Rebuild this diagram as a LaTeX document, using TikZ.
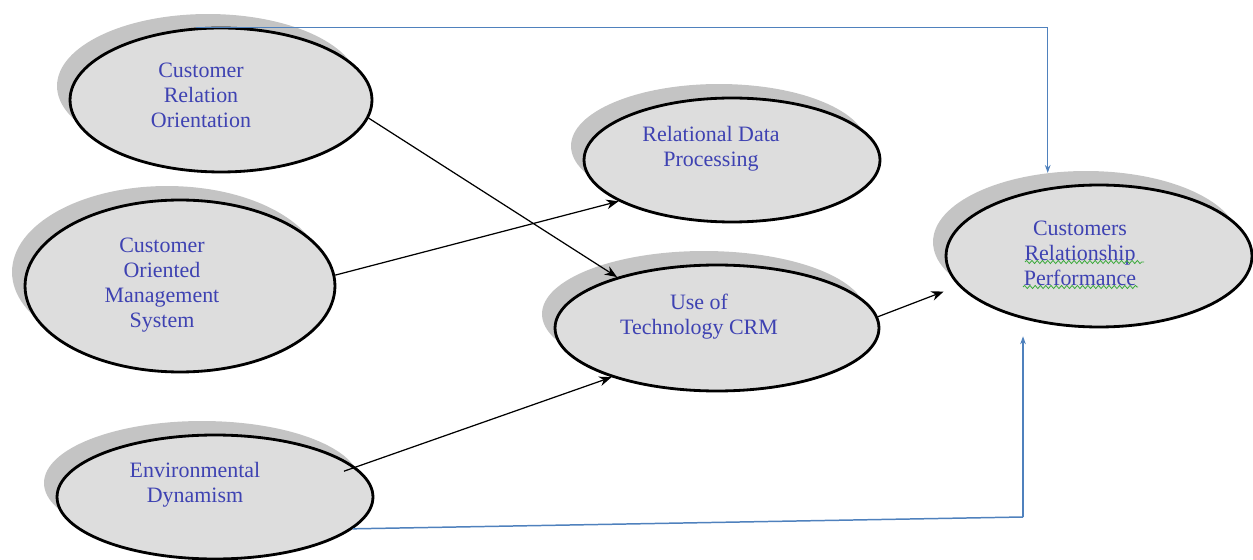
\documentclass[tikz,border=0pt]{standalone}
\usepackage{fontspec}
\setmainfont{Liberation Serif}
\usetikzlibrary{shapes.geometric,arrows.meta,decorations.pathmorphing,calc}
\definecolor{shadowgray}{RGB}{196,196,196}
\definecolor{ellfill}{RGB}{221,221,221}
\definecolor{txtblue}{RGB}{62,66,178}
\definecolor{lineblue}{RGB}{79,129,189}
\definecolor{spellgreen}{RGB}{60,170,60}
\tikzset{
  shd/.style={ellipse, fill=shadowgray, draw=none, inner sep=0pt},
  ell/.style={ellipse, fill=ellfill, draw=black, line width=1.6pt, inner sep=0pt},
  lbl/.style={align=center, text=txtblue, font=\fontsize{12.5}{14.2}\selectfont, inner sep=0pt},
  conn/.style={draw=black, line width=0.7pt, -{Stealth[length=7pt,width=5.5pt]}},
  bconn/.style={draw=lineblue, line width=0.85pt, -{Stealth[length=4.5pt,width=3.2pt]}},
  bline/.style={draw=lineblue, line width=0.85pt},
  squig/.style={draw=spellgreen, line width=0.45pt, decorate, decoration={snake, amplitude=0.9pt, segment length=3pt}},
}
\begin{document}
\begin{tikzpicture}[x=0.02cm,y=-0.02cm]
\useasboundingbox (0,0) rectangle (1253,560);
% shadows
\node[shd, minimum width=6.04cm, minimum height=2.88cm] (croS) at (208,86) {};
\node[shd, minimum width=6.20cm, minimum height=3.44cm] (comsS) at (167,272) {};
\node[shd, minimum width=6.32cm, minimum height=2.48cm] (edS) at (202,483) {};
\node[shd, minimum width=5.92cm, minimum height=2.48cm] (rdpS) at (719,146) {};
\node[shd, minimum width=6.48cm, minimum height=2.52cm] (utcS) at (704,314) {};
\node[shd, minimum width=6.12cm, minimum height=2.84cm] (crpS) at (1086,242) {};
% main ellipses
\node[ell, minimum width=6.04cm, minimum height=2.88cm] (cro) at (221,100) {};
\node[ell, minimum width=6.20cm, minimum height=3.44cm] (coms) at (180,286) {};
\node[ell, minimum width=6.32cm, minimum height=2.48cm] (ed) at (215,497) {};
\node[ell, minimum width=5.92cm, minimum height=2.48cm] (rdp) at (732,160) {};
\node[ell, minimum width=6.48cm, minimum height=2.52cm] (utc) at (717,328) {};
\node[ell, minimum width=6.12cm, minimum height=2.84cm] (crp) at (1099,256) {};
% labels
\node[lbl] (croT) at (201,95) {Customer\\Relation\\Orientation};
\node[lbl] (comsT) at (162,285) {Customer\\Oriented\\Management\\System};
\node[lbl] (edT) at (195,485) {Environmental\\Dynamism};
\node[lbl] (rdpT) at (711,148.5) {Relational Data\\Processing};
\node[lbl] (utcT) at (699,317) {Use of\\Technology CRM};
\node[lbl] (crpT) at (1080,253) {Customers\\Relationship\\Performance};
% spell-check underlines
\draw[squig] (1025,262) -- (1144,262);
\draw[squig] (1023,287) -- (1138,287);
% black connectors
\draw[conn] (cro.-7) -- (utc.153);
\draw[conn] (coms.4.3) -- (rdp.200);
\draw[conn, shorten <=-7pt] (ed.12.2) -- (utc.205.3);
\draw[conn, shorten >=9pt] (utc.4.1) -- (crp.192.4);
% blue connectors
\draw[bconn] (cro.109.9) -| (crpS.119.1);
\coordinate (bcorner) at (1023,517);
\draw[bline] (ed.-13.5) -- (bcorner);
\draw[bconn, shorten >=4.5pt] (bcorner) -- (bcorner |- crp.south);
\end{tikzpicture}
\end{document}
